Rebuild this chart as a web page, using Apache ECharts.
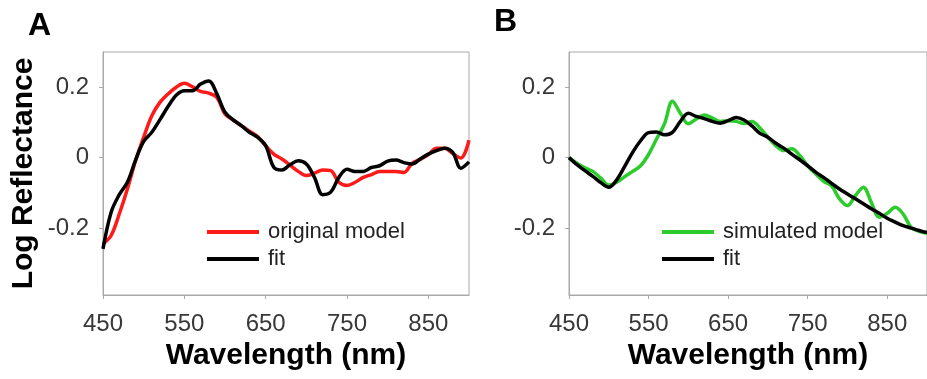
<!DOCTYPE html>
<html>
<head>
<meta charset="utf-8">
<script src="https://cdn.jsdelivr.net/npm/echarts@6/dist/echarts.min.js"></script>
<style>
  html, body { margin: 0; padding: 0; background: #fff; }
  #chart { width: 927px; height: 379px; }
</style>
</head>
<body>
<div id="chart"></div>
<script>
// wavelength grid (nm), shared by every curve
const wavelengths = [450, 460, 470, 480, 490, 500, 510, 520, 530, 540, 550, 560, 570, 580, 590, 600,
  610, 620, 630, 640, 650, 660, 670, 680, 690, 700, 710, 720, 730, 740, 750, 760, 770, 780, 790, 800,
  810, 820, 830, 840, 850, 860, 870, 880, 890, 900]

// panel A
const originalModel = [-0.245, -0.221, -0.16, -0.089, -0.009, 0.058, 0.119, 0.157, 0.181, 0.2, 0.211, 0.201,
  0.188, 0.183, 0.171, 0.124, 0.107, 0.091, 0.075, 0.06, 0.034, 0.01, -0.004, -0.021, -0.039, -0.051,
  -0.044, -0.035, -0.037, -0.07, -0.079, -0.07, -0.056, -0.048, -0.039, -0.039, -0.039, -0.042, -0.016,
  -0.005, 0.009, 0.027, 0.027, 0.012, -0.001, 0.05]
const fitA = [-0.259, -0.155, -0.105, -0.07, -0.007, 0.046, 0.072, 0.108, 0.145, 0.177, 0.19, 0.19, 0.209,
  0.218, 0.181, 0.129, 0.107, 0.091, 0.072, 0.058, 0.034, -0.027, -0.035, -0.02, -0.009, -0.018, -0.056,
  -0.105, -0.098, -0.056, -0.033, -0.039, -0.039, -0.028, -0.023, -0.01, -0.007, -0.014, -0.018, -0.004,
  0.01, 0.02, 0.027, 0.015, -0.03, -0.012]

// panel B
const simulatedModel = [0, -0.016, -0.029, -0.039, -0.058, -0.078, -0.07, -0.054, -0.039, -0.023, 0.009,
  0.053, 0.096, 0.16, 0.126, 0.096, 0.11, 0.121, 0.113, 0.103, 0.105, 0.103, 0.097, 0.103, 0.084, 0.058,
  0.034, 0.02, 0.025, 0.006, -0.023, -0.046, -0.067, -0.08, -0.117, -0.136, -0.108, -0.084, -0.127,
  -0.169, -0.158, -0.141, -0.16, -0.198, -0.209, -0.215]
const fitB = [0, -0.02, -0.037, -0.053, -0.071, -0.084, -0.063, -0.025, 0.015, 0.048, 0.071, 0.073, 0.065,
  0.072, 0.103, 0.126, 0.117, 0.111, 0.103, 0.098, 0.105, 0.114, 0.107, 0.09, 0.069, 0.058, 0.041, 0.027,
  0.01, -0.006, -0.023, -0.041, -0.056, -0.073, -0.089, -0.103, -0.117, -0.131, -0.145, -0.158, -0.172,
  -0.183, -0.193, -0.2, -0.207, -0.213]

const xTicks = [450, 550, 650, 750, 850]
const yTicks = [-0.2, 0, 0.2]

const FONT = '"Liberation Sans", Arial, Helvetica, sans-serif'
const AXIS_GRAY = '#a9a9a9'
const RED = '#ff1a1a'
const GREEN = '#2ccc2c'

const pairs = (ys) => wavelengths.map((w, i) => [w, ys[i]])

function xAxisFor(gridIndex) {
  return {
    type: 'value', gridIndex, min: 450, max: 900,
    name: 'Wavelength (nm)', nameLocation: 'middle', nameGap: 46,
    nameTextStyle: { fontFamily: FONT, fontSize: 30, fontWeight: 'bold', color: '#000' },
    axisLine: { show: true, onZero: false, lineStyle: { color: AXIS_GRAY, width: 1 } },
    axisTick: { show: true, length: 4, customValues: xTicks, lineStyle: { color: AXIS_GRAY } },
    axisLabel: { customValues: xTicks, margin: 17, fontFamily: FONT, fontSize: 24, color: '#383838' },
    splitLine: { show: false },
  }
}

function yAxisFor(gridIndex, withName) {
  return {
    type: 'value', gridIndex, min: -0.39, max: 0.3,
    name: withName ? 'Log Reflectance' : '', nameLocation: 'middle', nameGap: 64,
    nameTextStyle: { fontFamily: FONT, fontSize: 30, fontWeight: 'bold', color: '#000' },
    axisLine: { show: true, onZero: false, lineStyle: { color: AXIS_GRAY, width: 1 } },
    axisTick: { show: true, length: 4, customValues: yTicks, lineStyle: { color: AXIS_GRAY } },
    axisLabel: { customValues: yTicks, margin: 14, fontFamily: FONT, fontSize: 24, color: '#383838',
      formatter: (v) => (v === 0 ? '0' : String(v)) },
    splitLine: { show: false },
  }
}

function lineSeries(name, data, color, axisIndex, z) {
  return {
    type: 'line', name, data: pairs(data), xAxisIndex: axisIndex, yAxisIndex: axisIndex,
    symbol: 'none', smooth: 0.35, z,
    lineStyle: { color, width: 3.5 }, itemStyle: { color },
  }
}

function legendFor(left, names) {
  return {
    orient: 'vertical', left, top: 216, itemGap: 5, itemWidth: 52, itemHeight: 4,
    icon: 'rect', data: names, selectedMode: false,
    textStyle: { fontFamily: FONT, fontSize: 22, color: '#222', lineHeight: 22, padding: [0, 0, 0, 4] },
  }
}

const chart = echarts.init(document.getElementById('chart'), null, { renderer: 'canvas' })
chart.setOption({
  animation: false,
  backgroundColor: '#fff',
  grid: [
    { left: 103, top: 52, width: 366, height: 243, show: true, borderColor: AXIS_GRAY, borderWidth: 1 },
    { left: 569, top: 52, width: 367, height: 243, show: true, borderColor: AXIS_GRAY, borderWidth: 1 },
  ],
  xAxis: [xAxisFor(0), xAxisFor(1)],
  yAxis: [yAxisFor(0, true), yAxisFor(1, false)],
  legend: [
    legendFor(202, ['original model', 'fit']),
    legendFor(657, ['simulated model', 'fit']),
  ],
  title: [
    { text: 'A', left: 23, top: 5, textStyle: { fontFamily: FONT, fontSize: 32, fontWeight: 'bold', color: '#000' } },
    { text: 'B', left: 489, top: 1, textStyle: { fontFamily: FONT, fontSize: 32, fontWeight: 'bold', color: '#000' } },
  ],
  series: [
    lineSeries('original model', originalModel, RED, 0, 2),
    lineSeries('fit', fitA, '#000', 0, 3),
    lineSeries('simulated model', simulatedModel, GREEN, 1, 2),
    lineSeries('fit', fitB, '#000', 1, 3),
  ],
})
</script>
</body>
</html>
